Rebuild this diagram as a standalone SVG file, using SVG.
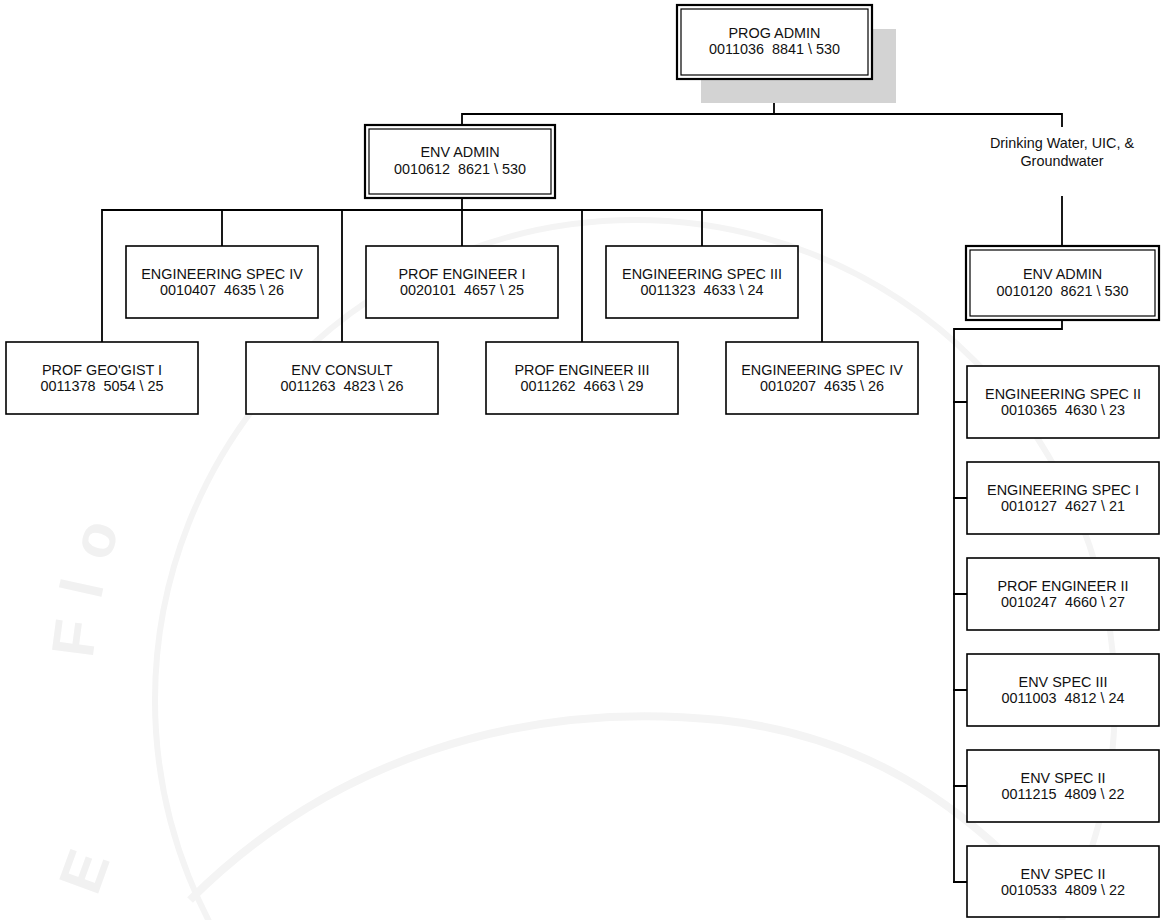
<svg xmlns="http://www.w3.org/2000/svg" width="1165" height="920" viewBox="0 0 1165 920">
  <style>
    .box { fill: #ffffff; stroke: #000000; stroke-width: 1.6; }
    .outer { fill: #ffffff; stroke: #000000; stroke-width: 2.2; }
    .inner { fill: none; stroke: #000000; stroke-width: 1.2; }
    .lbl { font-family: "Liberation Sans", Arial, sans-serif; font-size: 14.4px; fill: #111111; text-anchor: middle; }
    .wire { fill: none; stroke: #000000; stroke-width: 1.8; stroke-linecap: square; }
    .seal { fill: none; stroke: #f4f4f4; }
    .sealtxt { font-family: "Liberation Sans", Arial, sans-serif; font-size: 60px; font-weight: bold; fill: #f1f1f1; }
  </style>
  <defs>
    <path id="ringLeft" d="M 95,760 A 545,545 0 0 1 640,155"/>
  </defs>

  <rect width="1165" height="920" fill="#ffffff"/>

  <!-- faint seal in the background -->
  <g id="watermark">
    <circle class="seal" cx="635" cy="700" r="480" stroke-width="6"/>
    <path class="seal" d="M 190,900 C 330,760 520,700 720,720 C 860,735 960,800 1050,900" stroke-width="8"/>
    <text class="sealtxt" letter-spacing="22"><textPath href="#ringLeft" startOffset="11%">Flo</textPath></text>
    <text class="sealtxt" x="60" y="895" transform="rotate(-70 80 870)">E</text>
  </g>

  <!-- connectors -->
  <g id="connectors">
    <path class="wire" d="M774,79 V114 M462,114 H1062 V126 M462,114 V125"/>
    <path class="wire" d="M462,198 V246"/>
    <path class="wire" d="M102,342 V210 H822 V342"/>
    <path class="wire" d="M222,210 V246 M342,210 V342 M582,210 V342 M702,210 V246"/>
    <path class="wire" d="M1062,197 V246"/>
    <path class="wire" d="M1062,320 V329 H954 V882"/>
    <path class="wire" d="M954,402 H967 M954,498 H967 M954,594 H967 M954,690 H967 M954,786 H967 M954,882 H967"/>
  </g>

  <!-- top -->
  <g id="prog-admin">
    <rect x="701" y="29" width="195" height="74" fill="#d3d3d3"/>
    <rect class="outer" x="677" y="5" width="195" height="74"/>
    <rect class="inner" x="681" y="9" width="187" height="66"/>
    <text class="lbl" x="774.5" y="37.5">PROG ADMIN</text>
    <text class="lbl" x="774.5" y="54" xml:space="preserve">0011036  8841 \ 530</text>
  </g>

  <g id="env-admin-0010612">
    <rect class="outer" x="365" y="125" width="190" height="73"/>
    <rect class="inner" x="369" y="129" width="182" height="65"/>
    <text class="lbl" x="460" y="157">ENV ADMIN</text>
    <text class="lbl" x="460" y="174" xml:space="preserve">0010612  8621 \ 530</text>
  </g>

  <g id="section-label">
    <text class="lbl" x="1062" y="148">Drinking Water, UIC, &amp;</text>
    <text class="lbl" x="1062" y="166">Groundwater</text>
  </g>

  <g id="env-admin-0010120">
    <rect class="outer" x="966" y="246" width="193" height="74"/>
    <rect class="inner" x="970" y="250" width="185" height="66"/>
    <text class="lbl" x="1062.5" y="279">ENV ADMIN</text>
    <text class="lbl" x="1062.5" y="296" xml:space="preserve">0010120  8621 \ 530</text>
  </g>

  <!-- upper row -->
  <g id="eng-spec-iv-0010407">
    <rect class="box" x="126" y="246" width="192" height="72"/>
    <text class="lbl" x="222" y="278.5">ENGINEERING SPEC IV</text>
    <text class="lbl" x="222" y="295" xml:space="preserve">0010407  4635 \ 26</text>
  </g>
  <g id="prof-engineer-i">
    <rect class="box" x="366" y="246" width="192" height="72"/>
    <text class="lbl" x="462" y="278.5">PROF ENGINEER I</text>
    <text class="lbl" x="462" y="295" xml:space="preserve">0020101  4657 \ 25</text>
  </g>
  <g id="eng-spec-iii">
    <rect class="box" x="606" y="246" width="192" height="72"/>
    <text class="lbl" x="702" y="278.5">ENGINEERING SPEC III</text>
    <text class="lbl" x="702" y="295" xml:space="preserve">0011323  4633 \ 24</text>
  </g>

  <!-- lower row -->
  <g id="prof-geogist-i">
    <rect class="box" x="6" y="342" width="192" height="72"/>
    <text class="lbl" x="102" y="374.5">PROF GEO'GIST I</text>
    <text class="lbl" x="102" y="391" xml:space="preserve">0011378  5054 \ 25</text>
  </g>
  <g id="env-consult">
    <rect class="box" x="246" y="342" width="192" height="72"/>
    <text class="lbl" x="342" y="374.5">ENV CONSULT</text>
    <text class="lbl" x="342" y="391" xml:space="preserve">0011263  4823 \ 26</text>
  </g>
  <g id="prof-engineer-iii">
    <rect class="box" x="486" y="342" width="192" height="72"/>
    <text class="lbl" x="582" y="374.5">PROF ENGINEER III</text>
    <text class="lbl" x="582" y="391" xml:space="preserve">0011262  4663 \ 29</text>
  </g>
  <g id="eng-spec-iv-0010207">
    <rect class="box" x="726" y="342" width="192" height="72"/>
    <text class="lbl" x="822" y="374.5">ENGINEERING SPEC IV</text>
    <text class="lbl" x="822" y="391" xml:space="preserve">0010207  4635 \ 26</text>
  </g>

  <!-- right column -->
  <g id="eng-spec-ii">
    <rect class="box" x="967" y="366" width="192" height="72"/>
    <text class="lbl" x="1063" y="398.5">ENGINEERING SPEC II</text>
    <text class="lbl" x="1063" y="415" xml:space="preserve">0010365  4630 \ 23</text>
  </g>
  <g id="eng-spec-i">
    <rect class="box" x="967" y="462" width="192" height="72"/>
    <text class="lbl" x="1063" y="494.5">ENGINEERING SPEC I</text>
    <text class="lbl" x="1063" y="511" xml:space="preserve">0010127  4627 \ 21</text>
  </g>
  <g id="prof-engineer-ii">
    <rect class="box" x="967" y="558" width="192" height="72"/>
    <text class="lbl" x="1063" y="590.5">PROF ENGINEER II</text>
    <text class="lbl" x="1063" y="607" xml:space="preserve">0010247  4660 \ 27</text>
  </g>
  <g id="env-spec-iii">
    <rect class="box" x="967" y="654" width="192" height="72"/>
    <text class="lbl" x="1063" y="686.5">ENV SPEC III</text>
    <text class="lbl" x="1063" y="703" xml:space="preserve">0011003  4812 \ 24</text>
  </g>
  <g id="env-spec-ii-0011215">
    <rect class="box" x="967" y="750" width="192" height="72"/>
    <text class="lbl" x="1063" y="782.5">ENV SPEC II</text>
    <text class="lbl" x="1063" y="799" xml:space="preserve">0011215  4809 \ 22</text>
  </g>
  <g id="env-spec-ii-0010533">
    <rect class="box" x="967" y="846" width="192" height="71"/>
    <text class="lbl" x="1063" y="878.5">ENV SPEC II</text>
    <text class="lbl" x="1063" y="895" xml:space="preserve">0010533  4809 \ 22</text>
  </g>
</svg>
